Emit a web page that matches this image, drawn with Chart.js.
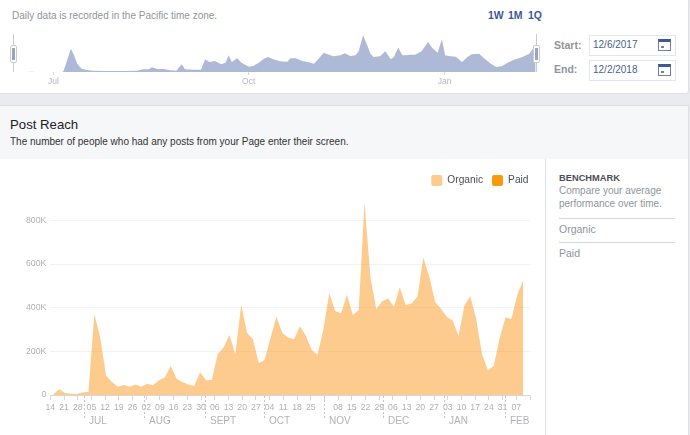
<!DOCTYPE html>
<html><head><meta charset="utf-8">
<script src="https://cdn.jsdelivr.net/npm/chart.js@4"></script>
<style>
html,body{margin:0;padding:0;background:#e9ebee;width:690px;height:435px;overflow:hidden;font-family:"Liberation Sans",Arial,sans-serif}
.abs{position:absolute;white-space:nowrap}
#top{position:absolute;left:-2px;top:-2px;width:689px;height:94px;background:#fff;border:1px solid #dddfe2;border-radius:3px}
#head{position:absolute;left:-2px;top:105px;width:689px;height:53px;background:#f6f7f9;border:1px solid #dddfe2}
#body{position:absolute;left:0;top:159px;width:688px;height:276px;background:#fff;border-right:1px solid #dddfe2}
#side{position:absolute;left:545px;top:159px;width:1px;height:276px;background:#dddfe2}
.box{position:absolute;left:589px;width:85px;height:19px;border:1px solid #e4e6ea;background:#fff}
.box span{position:absolute;left:3px;top:3px;font-size:10px;color:#4b5f8c}
.cal{position:absolute;left:658px;width:13px;height:12px;background:#fff;border:1px solid #6f7fa5;box-sizing:border-box;border-top:3px solid #3b5998}
.cal i{position:absolute;left:2px;top:4px;width:3px;height:2px;background:#6f7fa5}
.hl{position:absolute;width:1px;background:#c9ccd1}
.grip{position:absolute;width:5px;height:16px;background:#fff;border:1px solid #c9ccd1;border-radius:2px}
.grip i{position:absolute;left:1px;top:2px;width:3px;height:12px;background:#9aa5bd}
.rule{position:absolute;left:559px;width:116px;height:1px;background:#d5d7db}
canvas{position:absolute;display:block}
</style></head>
<body>
<div id="top"></div>
<div class="abs" style="left:12px;top:10px;font-size:10px;color:#90949c">Daily data is recorded in the Pacific time zone.</div>
<div class="abs" style="left:488px;top:9px;font-size:10.5px;font-weight:bold;color:#3b5998">1W</div>
<div class="abs" style="left:508px;top:9px;font-size:10.5px;font-weight:bold;color:#3b5998">1M</div>
<div class="abs" style="left:528px;top:9px;font-size:10.5px;font-weight:bold;color:#3b5998">1Q</div>
<div class="abs" style="left:554px;top:39px;font-size:10.5px;font-weight:bold;color:#90949c">Start:</div>
<div class="abs" style="left:554px;top:63px;font-size:10.5px;font-weight:bold;color:#90949c">End:</div>
<div class="box" style="top:35px"><span>12/6/2017</span></div>
<div class="box" style="top:60px"><span>12/2/2018</span></div>
<div class="cal" style="top:39px"><i></i></div>
<div class="cal" style="top:64px"><i></i></div>
<div id="head"></div>
<div class="abs" style="left:10px;top:117px;font-size:13.2px;color:#1d2129">Post Reach</div>
<div class="abs" style="left:10px;top:136px;font-size:10px;color:#333">The number of people who had any posts from your Page enter their screen.</div>
<div id="body"></div><div id="side"></div>
<div class="abs" style="left:559px;top:173px;font-size:9.3px;font-weight:bold;color:#4b4f56">BENCHMARK</div>
<div class="abs" style="left:559px;top:185px;font-size:10px;color:#90949c">Compare your average</div>
<div class="abs" style="left:559px;top:198px;font-size:10px;color:#90949c">performance over time.</div>
<div class="rule" style="top:218px"></div>
<div class="abs" style="left:559px;top:223px;font-size:10.5px;color:#90949c">Organic</div>
<div class="rule" style="top:242px"></div>
<div class="abs" style="left:559px;top:247px;font-size:10.5px;color:#90949c">Paid</div>
<canvas id="mini" width="545" height="70" style="left:0;top:20px;width:545px;height:70px"></canvas>
<canvas id="main" width="545" height="272" style="left:0;top:160px;width:545px;height:272px"></canvas>
<div class="hl" style="left:13px;top:34px;height:38px"></div>
<div class="hl" style="left:536px;top:34px;height:38px"></div>
<div class="grip" style="left:10px;top:45px"><i></i></div>
<div class="grip" style="left:533px;top:45px"><i></i></div>
<script>
// Main chart
const days=[1.5,4.5,7.5,10.5,13.5,16.5,19.5,22.5,25.5,28.5,31.5,34.5,37.5,40.5,43.5,46.5,49.5,52.5,55.5,58.5,61.5,64.5,67.5,70.5,73.5,76.5,79.5,82.5,85.5,88.5,91.5,94.5,97.5,100.5,103.5,106.5,109.5,112.5,115.5,118.5,121.5,124.5,127.5,130.5,133.5,136.5,139.5,142.5,145.5,148.5,151.5,154.5,157.5,160.5,163.5,166.5,169.5,172.5,175.5,178.5,181.5,184.5,187.5,190.5,193.5,196.5,199.5,202.5,205.5,208.5,211.5,214.5,217.5,220.5,223.5,226.5,229.5,232.5,235.5,238.5,241.5];
const organic=[3,26,9,6,5,12,15,371,264,88,60,38,46,38,48,38,52,45,68,80,134,74,60,48,41,104,68,69,187,218,275,187,414,284,256,146,161,264,359,284,264,256,315,272,206,184,302,468,385,375,460,368,388,881,540,393,430,442,405,494,413,419,450,629,545,427,395,359,342,270,410,453,348,187,114,134,261,355,348,460,525];
const paid=[0,0,0,0,0,0,0,0,0,0,0,0,0,0,0,0,0,0,0,0,0,0,0,0,0,0,0,0,0,0,0,0,0,0,0,0,0,0,0,0,0,0,0,0,0,0,0,0,0,0,0,0,0,0,0,0,0,0,0,0,0,0,0,0,0,0,0,0,0,0,0,0,0,0,0,0,0,0,0,0,0];
const tickDays=[0,7,14,21,28,35,42,49,56,63,70,77,84,91,98,105,112,119,126,133,140,147,154,161,168,175,182,189,196,203,210,217,224,231,238,245];
const tickLabels=['14','21','28','05','12','19','26','02','09','16','23','30','06','13','20','27','04','11','18','25','','08','15','22','29','06','13','20','27','03','10','17','24','31','07',''];
const monthDays=[17,48,79,109,140,170,201,232];
const monthLabels=['JUL','AUG','SEPT','OCT','NOV','DEC','JAN','FEB'];
// Overview strip
const overviewDays=[0,6.3,8.6,11,15.6,22.7,23.5,25,26,27,28.5,30,32,34.5,37.5,44,48.5,53,58,61,63.5,65,67.5,70.5,73.5,76.5,77.5,79,80.5,84.5,88,90,92,94.5,97.5,99.5,101,102.5,105,107,110.5,112.5,115,117.5,119.5,122,125,128.5,130,132.5,135.5,138.5,141,143,145.5,148,150,153.5,155.5,158,160.5,162,164,166,167.5,169,172,174.5,177,178.5,180.5,182.5,184,186,188.5,191.5,194.5,196.5,199,201,202.5,205,207.5,210.5,213,215,218.5,220.5,224,226.5,229,232.5,235.5,238.5,242,245];
const overviewValues=[0,0,1,0,0,0,2,30,50,70,50,25,10,6,4,3,3,3,4,8,8,14,9,9,5,4,12,23,8,7,7,38,30,33,23,28,50,30,41,28,16,18,27,40,45,38,32,31,41,41,33,29,25,38,58,52,47,50,56,48,50,62,110,80,55,45,47,62,38,45,73,50,50,52,52,62,90,72,58,98,50,47,46,30,45,53,55,43,25,15,17,30,38,44,55,82];
const overviewTickDays=[18.8,110.4,202.3];
const overviewTickLabels=['Jul','Oct','Jan'];

const font='"Liberation Sans",Arial,sans-serif';
const monthPlugin={id:'months',
 afterLayout(c){c.legend.right+=7.5;},
 afterDraw(c){
  const x=c.scales.x,g=c.ctx,y0=x.top;
  g.save();g.strokeStyle='#c4c6ca';g.lineWidth=1;g.setLineDash([2,2]);
  g.font='10px '+font;g.fillStyle='#b0b2b7';g.textBaseline='middle';g.textAlign='left';
  monthDays.forEach((d,i)=>{
    const px=Math.round(x.getPixelForValue(d))+.5;
    g.beginPath();g.moveTo(px,y0+1);g.lineTo(px,y0+24);g.stroke();
    g.fillText(monthLabels[i],px+4.5,y0+26);
  });
  g.restore();
}};
new Chart(document.getElementById('main'),{
  type:'line',
  data:{datasets:[
    {label:'Organic',data:days.map((d,i)=>({x:d,y:organic[i]})),backgroundColor:'rgba(251,152,30,.5)',borderWidth:0,pointRadius:0,fill:'origin',tension:0},
    {label:'Paid',data:days.map((d,i)=>({x:d,y:paid[i]})),backgroundColor:'#f59b0c',borderWidth:0,pointRadius:0,fill:'-1',tension:0}
  ]},
  plugins:[monthPlugin],
  options:{
    responsive:false,animation:false,devicePixelRatio:1,
    layout:{padding:{left:0,right:15,top:6,bottom:0}},
    plugins:{tooltip:{enabled:false},
      legend:{position:'top',align:'end',labels:{boxWidth:11,boxHeight:11,padding:9,useBorderRadius:true,borderRadius:2,color:'#4b4f56',font:{family:font,size:10.2}}}},
    scales:{
      x:{type:'linear',min:0,max:245,
        afterBuildTicks(s){s.ticks=tickDays.map(v=>({value:v}));},
        afterFit(s){s.height=37;},
        grid:{drawOnChartArea:false,tickLength:5,tickColor:'#d5d7db'},
        border:{color:'#d5d7db'},
        ticks:{autoSkip:false,maxRotation:0,padding:2,color:'#aeb0b5',font:{family:font,size:8.7},
          callback(v,i){return tickLabels[i];}}},
      y:{stacked:true,min:0,max:912,
        afterFit(s){s.width=50.3;},
        grid:{color:'#f1f2f3',drawTicks:false},border:{display:false},
        ticks:{stepSize:200,includeBounds:false,padding:4,color:'#aeb0b5',font:{family:font,size:8.7},
          callback(v){return v===0?'0':v+'K';}}}
    }
  }
});
new Chart(document.getElementById('mini'),{
  type:'line',
  data:{datasets:[{label:'Overview',data:overviewDays.map((d,i)=>({x:d,y:overviewValues[i]})),backgroundColor:'#aeb9d5',borderWidth:0,pointRadius:0,fill:'origin',tension:0}]},
  options:{
    responsive:false,animation:false,devicePixelRatio:1,
    layout:{padding:{left:13.3,right:9.3,top:0,bottom:0}},
    plugins:{legend:{display:false},tooltip:{enabled:false}},
    scales:{
      x:{type:'linear',min:0,max:245,
        afterBuildTicks(s){s.ticks=overviewTickDays.map(v=>({value:v}));},
        afterFit(s){s.height=18;},
        grid:{drawOnChartArea:false,tickLength:3,tickColor:'#d5d7db'},
        border:{display:false},
        ticks:{autoSkip:false,maxRotation:0,padding:2,color:'#b5b7bb',font:{family:font,size:8.5},
          callback(v,i){return overviewTickLabels[i];}}},
      y:{display:false,min:0,max:156}
    }
  }
});
</script>
</body></html>
